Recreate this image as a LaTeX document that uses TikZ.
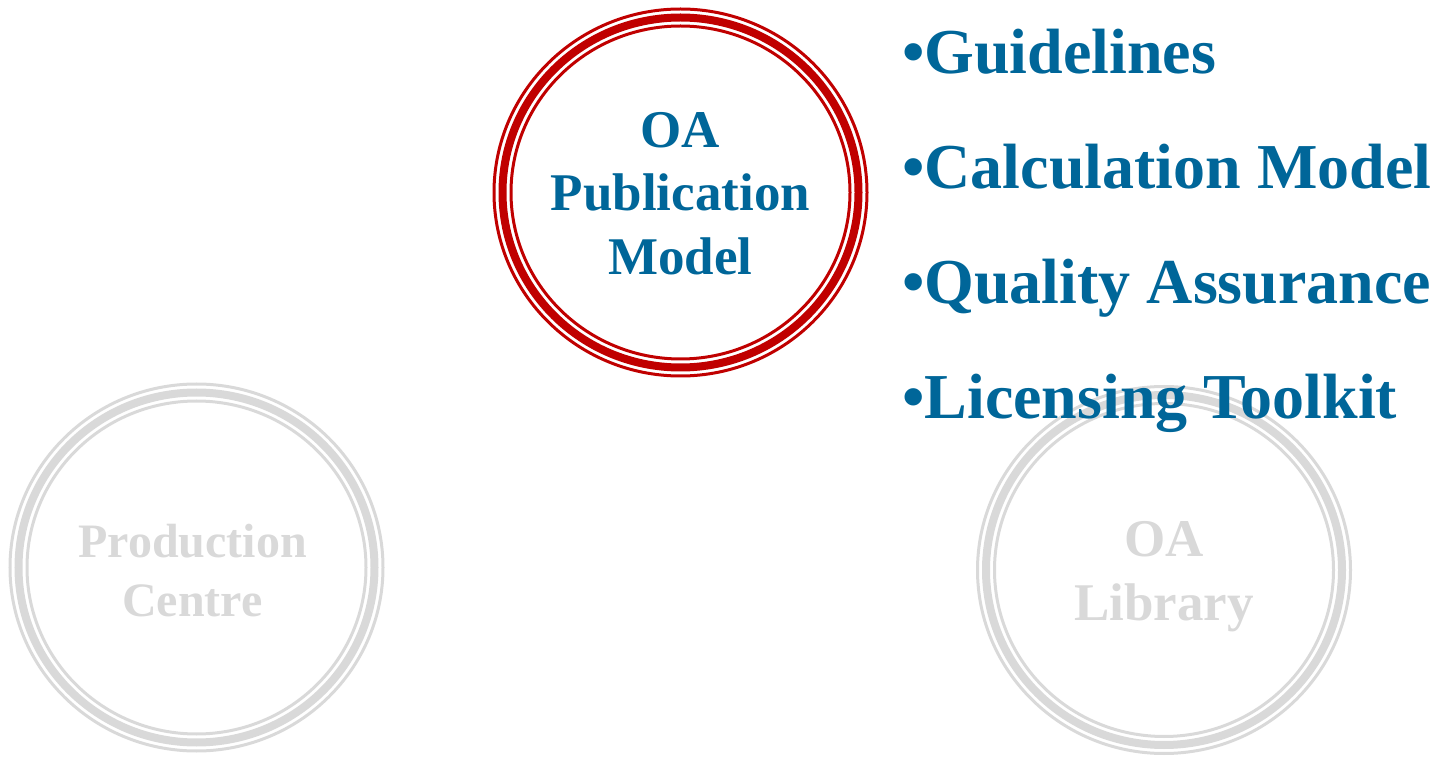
\documentclass[tikz,border=0pt]{standalone}
\usepackage{fontspec}
\setmainfont{Liberation Serif}
\usetikzlibrary{positioning, shapes.geometric}
\definecolor{oaBlue}{RGB}{0,102,153}
\definecolor{oaRed}{RGB}{192,0,0}
\definecolor{oaGrey}{RGB}{217,217,217}

\begin{document}
\begin{tikzpicture}[x=1pt, y=1pt]
  \tikzstyle{ring} = [ellipse, draw, line width=8pt, inner sep=0pt, minimum width=356pt, minimum height=350pt]
  \tikzstyle{ringLine} = [line width=3pt]
  \tikzstyle{ringText} = [align=center, inner sep=0pt, font={\fontsize{53}{63.5}\selectfont\bfseries}]
  \tikzstyle{item} = [anchor=base west, inner sep=0pt, text=oaBlue, font={\fontsize{64}{72}\selectfont\bfseries}]

  \useasboundingbox (0,0) rectangle (1441,756);

  % the three rings
  \node[ring, draw=oaRed] (pub) at (680.5,563.5) {};
  \node[ring, draw=oaGrey] (prod) at (196.5,188.5) {};
  \node[ring, draw=oaGrey] (lib) at (1164,186) {};
  \foreach \n/\c in {pub/oaRed, prod/oaGrey, lib/oaGrey}
    \draw[ringLine, \c] (\n.center) ellipse [x radius=186.5, y radius=183.5]
                        (\n.center) ellipse [x radius=169.5, y radius=166.5];

  % ring labels
  \node[ringText, text=oaBlue, yshift=-1pt] (pubText) at (pub) {OA\\Publication\\Model};
  \node[ringText, text=oaGrey, font={\fontsize{48}{59}\selectfont\bfseries}, xshift=-4pt, yshift=-3.5pt] (prodText) at (prod) {Production\\Centre};
  \node[ringText, text=oaGrey, yshift=-6.5pt] (libText) at (lib) {OA\\Library};

  % bullet list
  \node[item] (guide) at (902,682) {•Guidelines};
  \node[item, below=115pt of guide.base west, anchor=base west] (calc) {•Calculation Model};
  \node[item, below=115pt of calc.base west, anchor=base west] (quality) {•Quality Assurance};
  \node[item, below=115pt of quality.base west, anchor=base west] (licence) {•Licensing Toolkit};
\end{tikzpicture}
\end{document}
